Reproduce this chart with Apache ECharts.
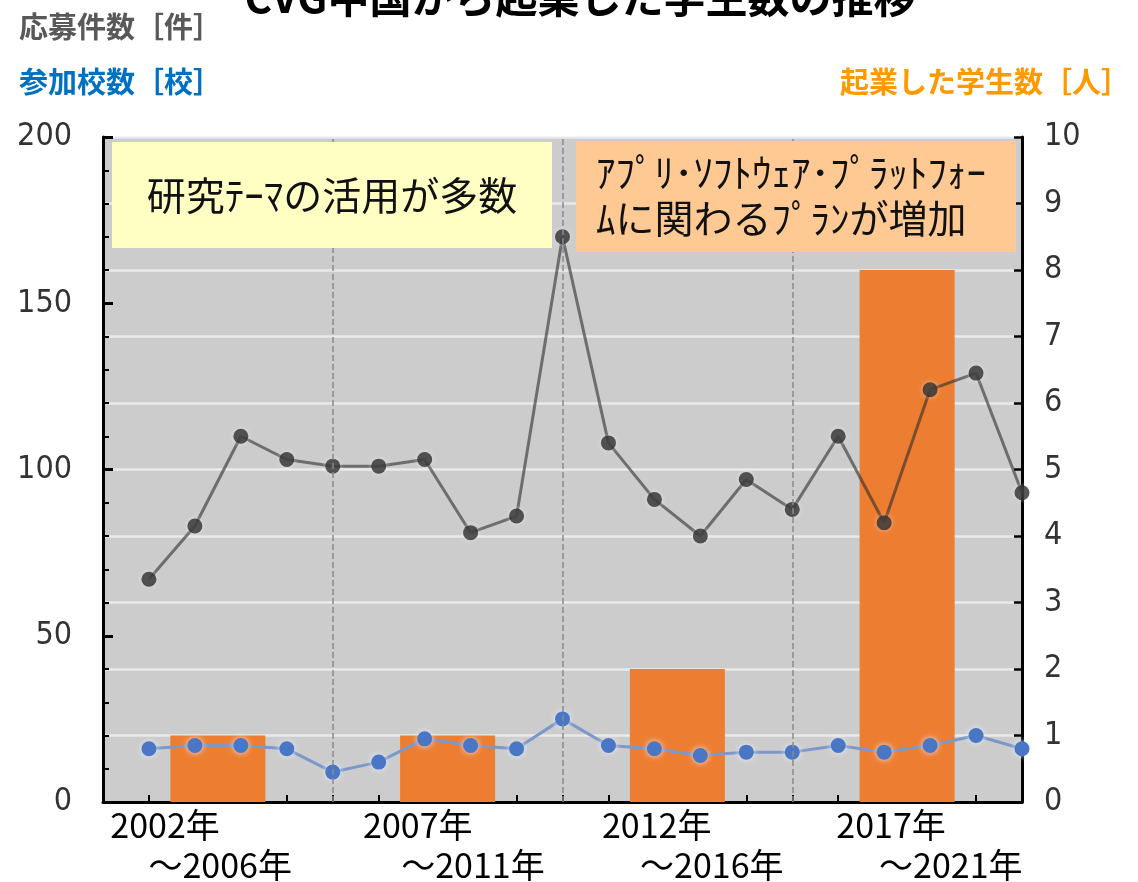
<!DOCTYPE html>
<html>
<head>
<meta charset="utf-8">
<script src="https://cdn.jsdelivr.net/npm/echarts@6/dist/echarts.min.js"></script>
<style>
  html, body { margin: 0; padding: 0; background: #fff; }
  #chart { width: 1138px; height: 882px; }
</style>
</head>
<body>
<div id="chart"></div>
<script>
// yearly values
const years = [2002, 2003, 2004, 2005, 2006, 2007, 2008, 2009, 2010, 2011,
  2012, 2013, 2014, 2015, 2016, 2017, 2018, 2019, 2020, 2021]
const applications = [67, 83, 110, 103, 101, 101, 103, 81, 86, 170,
  108, 91, 80, 97, 88, 110, 84, 124, 129, 93]
const schools = [16, 17, 17, 16, 9, 12, 19, 17, 16, 25,
  17, 16, 14, 15, 15, 17, 15, 17, 20, 16]

// five-year periods (bars)
const periodCenters = [2003.5, 2008.5, 2013.5, 2018.5]
const founders = [1, 1, 2, 8]
const periodStart = ['2002年', '2007年', '2012年', '2017年']
const periodEnd = ['～2006年', '～2011年', '～2016年', '～2021年']
const startLabelAt = [2002.35, 2007.85, 2013.05, 2018.15]
const endLabelAt = [2003.55, 2009.05, 2014.25, 2019.45]
const dividers = [2006, 2011, 2016]

const JP = "'Noto Sans CJK JP', sans-serif"
const NARROW = "'Liberation Sans Narrow', 'DejaVu Sans Condensed', sans-serif"

const chart = echarts.init(document.getElementById('chart'), null, { renderer: 'canvas' })

chart.setOption({
  backgroundColor: '#fff',
  animation: false,
  grid: {
    left: 103, right: 116, top: 137, bottom: 79,
    show: true, backgroundColor: '#cccccc', borderWidth: 0,
  },
  xAxis: [
    {
      type: 'value', min: 2001, max: 2021, interval: 1,
      axisLine: { onZero: false, lineStyle: { color: '#000', width: 3 } },
      axisTick: { inside: true, length: 7, lineStyle: { color: '#000', width: 2 } },
      splitLine: { show: false },
      axisLabel: {
        customValues: startLabelAt,
        formatter: (v) => periodStart[startLabelAt.indexOf(v)] || '',
        margin: 6, fontSize: 34, color: '#000', fontFamily: JP,
      },
    },
    {
      type: 'value', min: 2001, max: 2021, interval: 1, position: 'bottom',
      axisLine: { show: false },
      axisTick: { show: false },
      splitLine: { show: false },
      axisLabel: {
        customValues: endLabelAt,
        formatter: (v) => periodEnd[endLabelAt.indexOf(v)] || '',
        margin: 46, fontSize: 34, color: '#000', fontFamily: JP,
      },
    },
  ],
  yAxis: [
    {
      type: 'value', min: 0, max: 200, interval: 50,
      axisLine: { show: true, lineStyle: { color: '#000', width: 3 } },
      axisTick: { show: true, inside: true, length: 10, lineStyle: { color: '#000', width: 3 } },
      minorTick: { show: true, splitNumber: 5, length: 6, lineStyle: { color: '#000', width: 2 } },
      splitLine: { show: false },
      axisLabel: { margin: 31, fontSize: 32, color: '#333', fontFamily: NARROW },
    },
    {
      type: 'value', min: 0, max: 10, interval: 1, position: 'right',
      axisLine: { show: true, lineStyle: { color: '#000', width: 3 } },
      axisTick: { show: true, inside: true, length: 8, lineStyle: { color: '#000', width: 2.5 } },
      splitLine: { show: true, lineStyle: { color: 'rgba(238,238,238,0.85)', width: 2.5 } },
      axisLabel: { margin: 22, fontSize: 32, color: '#333', fontFamily: NARROW },
    },
  ],
  series: [
    {
      name: '起業した学生数',
      type: 'bar',
      yAxisIndex: 1,
      barWidth: 95,
      data: periodCenters.map((c, i) => [c, founders[i]]),
      itemStyle: { color: '#ED7D31' },
      markLine: {
        silent: true,
        symbol: 'none',
        label: { show: false },
        lineStyle: { color: '#8a8a8a', type: 'dashed', width: 1.5 },
        data: dividers.map((d) => ({ xAxis: d })),
      },
      z: 2,
    },
    {
      name: '応募件数',
      type: 'line',
      data: years.map((y, i) => [y, applications[i]]),
      symbol: 'circle',
      symbolSize: 15,
      lineStyle: { color: 'rgba(45,45,45,0.6)', width: 3 },
      itemStyle: {
        color: 'rgba(40,40,40,0.78)',
        shadowBlur: 5, shadowColor: 'rgba(255,255,255,0.6)',
      },
      z: 3,
    },
    {
      name: '参加校数',
      type: 'line',
      data: years.map((y, i) => [y, schools[i]]),
      symbol: 'circle',
      symbolSize: 15,
      lineStyle: { color: '#7b98c9', width: 3 },
      itemStyle: {
        color: '#4a76c6',
        shadowBlur: 6, shadowColor: 'rgba(235,240,255,0.9)',
      },
      z: 4,
    },
  ],
  graphic: [
    {
      type: 'text', x: 580, y: -24, z: 10,
      style: {
        text: 'CVG中国から起業した学生数の推移', fill: '#000',
        font: 'bold 42px ' + JP, textAlign: 'center', textVerticalAlign: 'top',
      },
    },
    {
      type: 'text', x: 19, y: 27,
      style: { text: '応募件数［件］', fill: '#595959', font: 'bold 29px ' + JP, textVerticalAlign: 'middle' },
    },
    {
      type: 'text', x: 19, y: 82,
      style: { text: '参加校数［校］', fill: '#0070C0', font: 'bold 29px ' + JP, textVerticalAlign: 'middle' },
    },
    {
      type: 'text', x: 1130, y: 82,
      style: { text: '起業した学生数［人］', fill: '#FF9900', font: 'bold 29px ' + JP, textAlign: 'right', textVerticalAlign: 'middle' },
    },
    {
      type: 'rect', z: 20,
      shape: { x: 112, y: 142, width: 440, height: 106 },
      style: { fill: '#FFFFC4' },
    },
    {
      type: 'text', x: 332, y: 195, z: 21,
      style: { text: '研究ﾃｰﾏの活用が多数', fill: '#111', font: '39px ' + JP, textAlign: 'center', textVerticalAlign: 'middle' },
    },
    {
      type: 'rect', z: 20,
      shape: { x: 576, y: 141, width: 440, height: 111 },
      style: { fill: '#FFC994' },
    },
    {
      type: 'text', x: 596, y: 195, z: 21,
      style: {
        text: 'ｱﾌﾟﾘ･ｿﾌﾄｳｪｱ･ﾌﾟﾗｯﾄﾌｫｰ\nﾑに関わるﾌﾟﾗﾝが増加', fill: '#111',
        font: '39px ' + JP, lineHeight: 46, textVerticalAlign: 'middle',
      },
    },
  ],
})

window.addEventListener('resize', () => chart.resize())
</script>
</body>
</html>
